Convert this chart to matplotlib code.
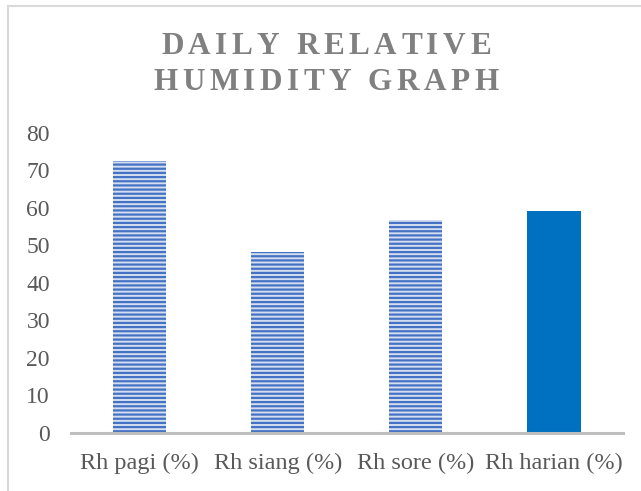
import matplotlib.pyplot as plt
from matplotlib.lines import Line2D

categories = ["Rh pagi (%)", "Rh siang (%)", "Rh sore (%)", "Rh harian (%)"]
values = [72.4, 48.1, 56.8, 59.2]
yticks = [0, 10, 20, 30, 40, 50, 60, 70, 80]
title_lines = ["DAILY RELATIVE", "HUMIDITY GRAPH"]

plt.rcParams['font.family'] = ['Liberation Serif', 'DejaVu Serif']
plt.rcParams['hatch.linewidth'] = 1.6

W, H = 641, 491
fig = plt.figure(figsize=(W / 100, H / 100), dpi=100)
ax = fig.add_axes([70.5 / W, (H - 433) / H, 552.5 / W, 300.3 / H])

x = range(len(categories))
bars = ax.bar(x, values, width=0.385, color='#d5def0', edgecolor='#4472c4',
              linewidth=0, hatch='----')
# last bar is solid
bars[-1].set_hatch(None)
bars[-1].set_facecolor('#0070c0')

ax.set_xlim(-0.5, len(categories) - 0.5)
ax.set_ylim(0, 80)
ax.set_yticks(yticks)
ax.set_xticks(list(x))
ax.set_xticklabels(categories)
ax.tick_params(axis='y', length=0, pad=14.8, labelsize=17, labelcolor='#595959')
ax.tick_params(axis='x', length=0, pad=14.5, labelsize=17.5, labelcolor='#595959')
for s in ['top', 'right', 'left']:
    ax.spines[s].set_visible(False)
ax.spines['bottom'].set_color('#bfbfbf')
ax.spines['bottom'].set_linewidth(2.2)

# outer chart frame (only top and left edges visible)
fx = 7.5 / W
fy = 1 - 5.5 / H
fig.add_artist(Line2D([fx, fx], [0, fy], transform=fig.transFigure,
                      color='#d9d9d9', lw=1.5))
fig.add_artist(Line2D([fx, 1], [fy, fy], transform=fig.transFigure,
                      color='#d9d9d9', lw=1.5))

# letter-spaced title, drawn char by char
renderer = fig.canvas.get_renderer()
spacing = 4.5
for line, yc in zip(title_lines, [47, 82]):
    widths = []
    for ch in line:
        t = fig.text(0, 0, ch if ch != ' ' else 'i', fontsize=22.5, fontweight='bold')
        w = t.get_window_extent(renderer).width
        if ch == ' ':
            w *= 0.9
        widths.append(w)
        t.remove()
    total = sum(widths) + spacing * (len(line) - 1)
    xpos = 326 - total / 2
    for ch, w in zip(line, widths):
        if ch != ' ':
            fig.text(xpos / W, 1 - yc / H, ch, fontsize=22.5, fontweight='bold',
                     color='#808080', ha='left', va='center')
        xpos += w + spacing

fig.savefig("out.png", dpi=100)
